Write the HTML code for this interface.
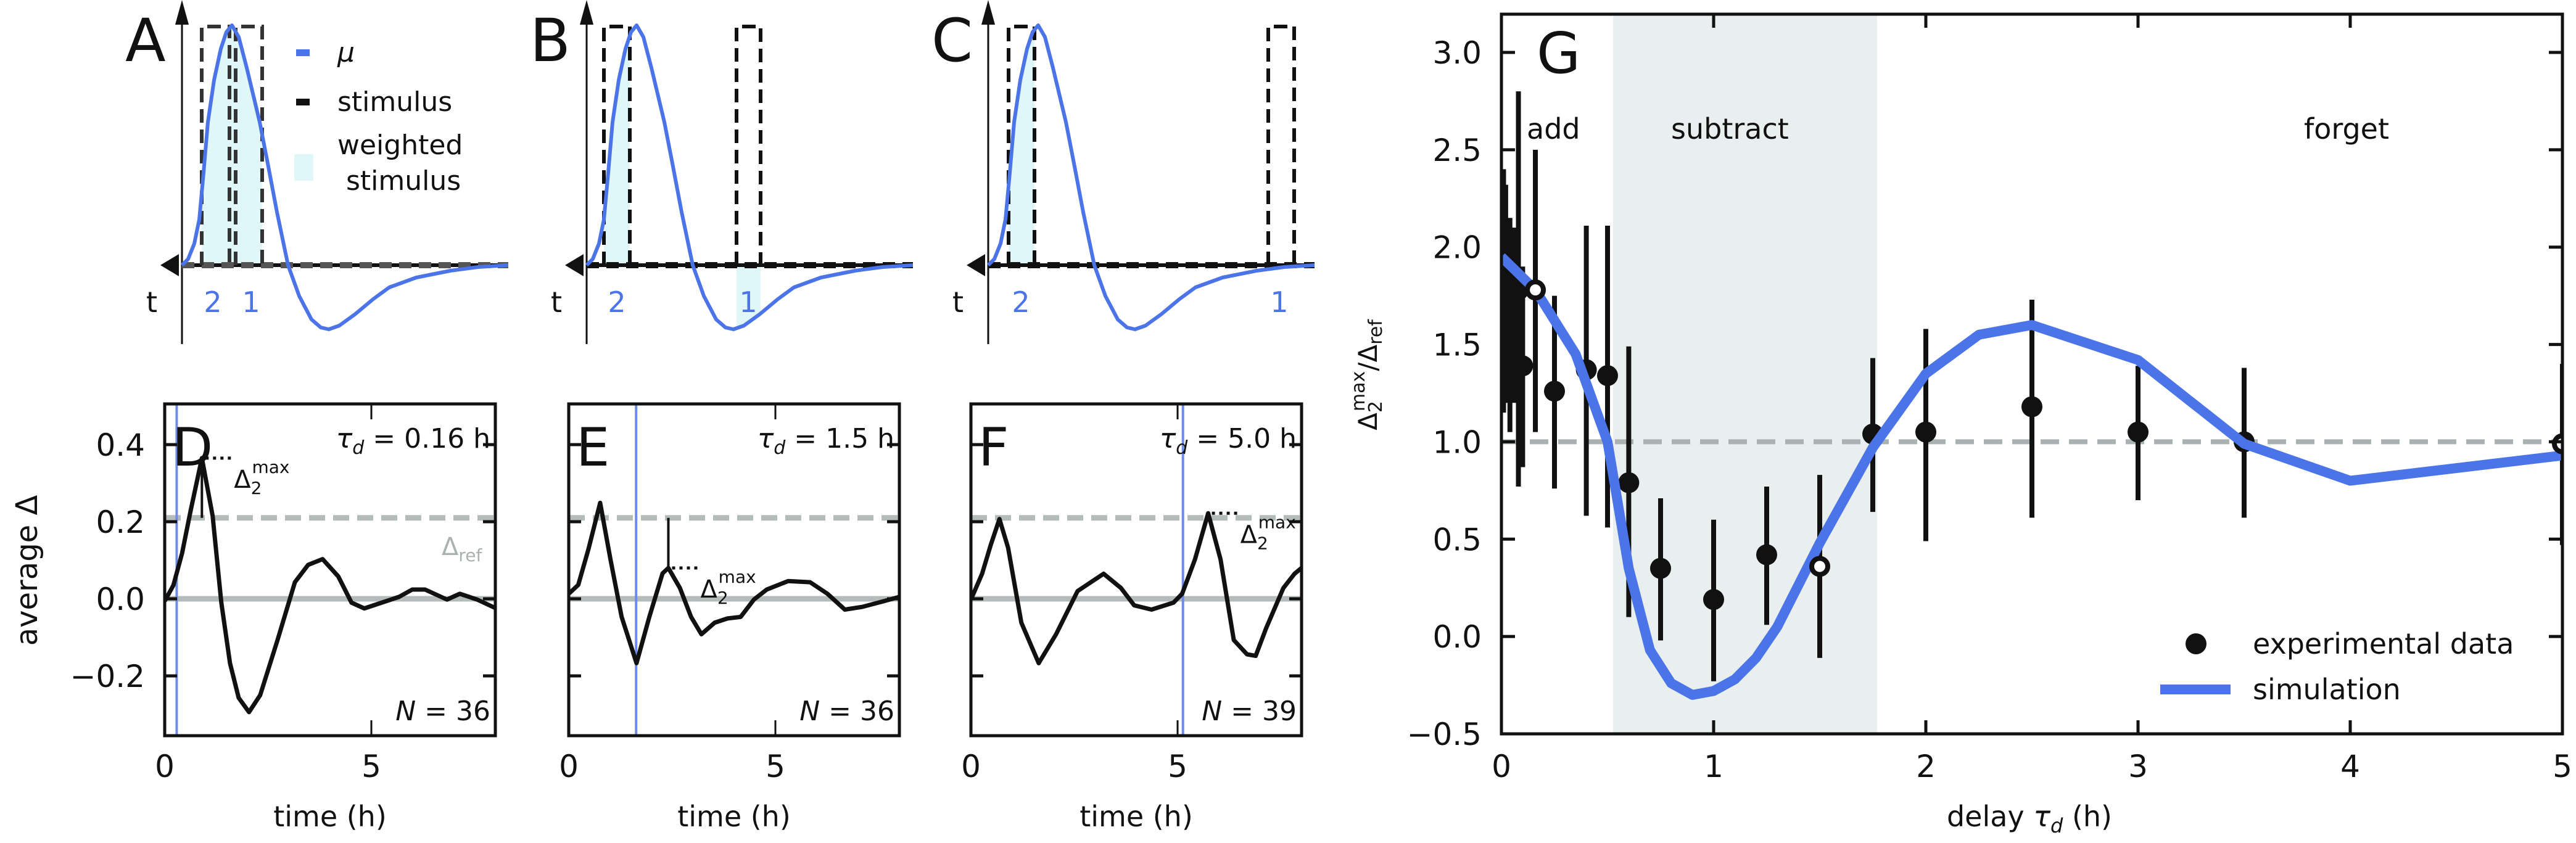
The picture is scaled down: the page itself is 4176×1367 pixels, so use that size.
<!DOCTYPE html>
<html><head><meta charset="utf-8">
<style>
html,body{margin:0;padding:0;background:#fff;}
svg{display:block;font-family:"DejaVu Sans","Liberation Sans",sans-serif;}
</style></head>
<body>
<svg id="fig" width="4176" height="1367" viewBox="0 0 4176 1367" xmlns="http://www.w3.org/2000/svg">
<defs>
<clipPath id="clipA"><rect x="327" y="0" width="98" height="600"/></clipPath>
<clipPath id="clipB"><rect x="979" y="0" width="42" height="600"/><rect x="1194" y="0" width="39" height="600"/></clipPath>
<clipPath id="clipC"><rect x="1635" y="0" width="42" height="600"/></clipPath>
<clipPath id="clipD"><rect x="267" y="655" width="536" height="538"/></clipPath>
<clipPath id="clipE"><rect x="922" y="655" width="536" height="538"/></clipPath>
<clipPath id="clipF"><rect x="1574" y="655" width="536" height="538"/></clipPath>
<clipPath id="clipG"><rect x="2434" y="23" width="1720" height="1167"/></clipPath>
</defs>
<g id="top"></g>
<g id="mid"></g>
<g id="gpanel"></g>
</svg>
<script>
// ---------- Panel G data ----------
const gTau   = [0.01,0.02,0.04,0.06,0.08,0.1,0.16,0.25,0.4,0.5,0.6,0.75,1.0,1.25,1.5,1.75,2.0,2.5,3.0,3.5,5.0];
const gVal   = [1.75,1.6,1.65,1.7,1.78,1.39,1.78,1.26,1.37,1.34,0.79,0.35,0.19,0.42,0.36,1.04,1.05,1.18,1.05,1.0,0.99];
const gLo    = [1.15,1.2,1.05,1.2,0.77,0.87,1.05,0.76,0.62,0.56,0.1,-0.02,-0.23,0.06,-0.11,0.64,0.49,0.61,0.7,0.61,0.47];
const gHi    = [2.4,2.32,2.15,2.1,2.8,1.9,2.5,1.75,2.11,2.11,1.49,0.71,0.6,0.77,0.83,1.43,1.58,1.73,1.39,1.38,1.4];
const gOpen  = [0,0,0,0,0,0,1,0,0,0,0,0,0,0,1,0,0,0,0,0,1];
const simTau = [0,0.16,0.35,0.5,0.6,0.7,0.8,0.9,1.0,1.1,1.2,1.3,1.5,1.75,2.0,2.25,2.5,3.0,3.5,4.0,5.0];
const simVal = [1.95,1.78,1.45,1.0,0.35,-0.07,-0.24,-0.3,-0.28,-0.22,-0.11,0.05,0.48,0.97,1.35,1.55,1.6,1.42,0.99,0.8,0.93];
const gYTicks = [-0.5,0.0,0.5,1.0,1.5,2.0,2.5,3.0];
const gYLabels = ["−0.5","0.0","0.5","1.0","1.5","2.0","2.5","3.0"];
const gXTicks = [0,1,2,3,4,5];
// ---------- Panels D-F data ----------
const dT = [0,0.21,0.42,0.63,0.9,1.16,1.37,1.58,1.79,2.04,2.31,2.73,3.15,3.47,3.82,4.2,4.52,4.83,5.25,5.67,5.99,6.3,6.83,7.14,7.56,8.02];
const dV = [-0.006,0.035,0.118,0.23,0.365,0.215,-0.01,-0.167,-0.257,-0.294,-0.25,-0.107,0.043,0.088,0.103,0.058,-0.01,-0.025,-0.01,0.005,0.024,0.024,-0.002,0.013,-0.002,-0.025];
const eT = [0,0.23,0.48,0.76,1.01,1.28,1.64,1.95,2.27,2.41,2.69,2.96,3.21,3.53,3.84,4.16,4.48,4.79,5.31,5.84,6.26,6.68,7.1,7.63,8.0];
const eV = [0.013,0.036,0.13,0.249,0.102,-0.047,-0.167,-0.047,0.066,0.08,0.028,-0.047,-0.092,-0.062,-0.051,-0.047,-0.002,0.024,0.046,0.043,0.013,-0.028,-0.021,-0.006,0.005];
const fT = [0,0.27,0.48,0.69,0.9,1.22,1.64,2.06,2.58,3.21,3.63,3.95,4.37,4.9,5.11,5.42,5.74,6.04,6.36,6.68,6.89,7.14,7.56,7.83,8.0];
const fV = [-0.002,0.065,0.14,0.207,0.132,-0.062,-0.167,-0.092,0.02,0.065,0.028,-0.017,-0.028,-0.01,0.013,0.102,0.222,0.102,-0.107,-0.144,-0.148,-0.077,0.028,0.065,0.08];
const tauD = [0.16,1.5,5.0];
const tauLabels = ["0.16","1.5","5.0"];
const nLabels = ["36","36","39"];
const peakT = [0.9,2.41,5.74];
const peakV = [0.365,0.08,0.222];
const deltaRef = 0.21;
const dfYTicks = [-0.2,0.0,0.2,0.4];
const dfYLabels = ["−0.2","0.0","0.2","0.4"];
const dfXTicks = [0,5];

const NS="http://www.w3.org/2000/svg";
function mk(tag, parent, attrs, text){
  const e=document.createElementNS(NS,tag);
  for(const k in attrs) e.setAttribute(k,attrs[k]);
  if(text!==undefined) e.textContent=text;
  parent.appendChild(e); return e;
}
const BLUE="#4b74e8";
const TF=50;

// ===== Panel G =====
const G=document.getElementById('gpanel');


const gx0=2434,gx1=4154,gy0=23,gy1=1190;
const gX=t=>gx0+t*(gx1-gx0)/5;
const gY=v=>1190-(v+0.5)*(1190-85)/3.5;
let el;
el=mk('rect',G,{x:gX(0.526),y:gy0,width:gX(1.77)-gX(0.526),height:gy1-gy0,fill:'#e9eeee'});


el=mk('line',G,{x1:gx0,x2:gx1,y1:gY(1),y2:gY(1),stroke:'#a9b2b0','stroke-width':8,'stroke-dasharray':'30,16'});


const gp=mk('g',G,{'clip-path':'url(#clipG)'});
for(let i=0;i<gTau.length;i++){
  el=mk('line',gp,{x1:gX(gTau[i]),x2:gX(gTau[i]),y1:gY(gLo[i]),y2:gY(gHi[i]),stroke:'#111','stroke-width':8});
  
  
}
for(let i=0;i<gTau.length;i++){
  if(gOpen[i]) continue;
  el=mk('circle',gp,{cx:gX(gTau[i]),cy:gY(gVal[i]),r:17,fill:'#111'});
  
  
}
el=mk('polyline',gp,{points:simTau.map((t,i)=>gX(t)+','+gY(simVal[i])).join(' '),fill:'none',stroke:BLUE,'stroke-width':16,'stroke-linejoin':'round'});


for(let i=0;i<gTau.length;i++){
  if(!gOpen[i]) continue;
  el=mk('circle',gp,{cx:gX(gTau[i]),cy:gY(gVal[i]),r:13,fill:'#fff',stroke:'#111','stroke-width':8});
  
  
}
el=mk('rect',G,{x:gx0,y:gy0,width:gx1-gx0,height:gy1-gy0,fill:'none',stroke:'#111','stroke-width':5});


gYTicks.forEach((v,i)=>{
  mk('line',G,{x1:gx0,x2:gx0+22,y1:gY(v),y2:gY(v),stroke:'#111','stroke-width':5});
  mk('line',G,{x1:gx1-22,x2:gx1,y1:gY(v),y2:gY(v),stroke:'#111','stroke-width':5});
  el=mk('text',G,{x:gx0-32,y:gY(v)+18,'text-anchor':'end','font-size':TF,fill:'#111'},gYLabels[i]);
  
  
});
gXTicks.forEach(t=>{
  mk('line',G,{x1:gX(t),x2:gX(t),y1:gy1,y2:gy1-22,stroke:'#111','stroke-width':5});
  mk('line',G,{x1:gX(t),x2:gX(t),y1:gy0,y2:gy0+22,stroke:'#111','stroke-width':5});
  el=mk('text',G,{x:gX(t),y:1260,'text-anchor':'middle','font-size':TF,fill:'#111'},String(t));
  
  
});
el=mk('text',G,{x:2491,y:118,'font-size':92,fill:'#111'},'G');


[['add',2475],['subtract',2709],['forget',3735]].forEach(a=>{
  el=mk('text',G,{x:a[1],y:225,'font-size':46,fill:'#111'},a[0]);
  
  
});
el=mk('text',G,{x:3290,y:1340,'text-anchor':'middle','font-size':46,fill:'#111'});
el.innerHTML='delay <tspan font-style="italic">τ</tspan><tspan font-style="italic" font-size="32" dy="10">d</tspan><tspan dy="-10"> (h)</tspan>';


el=mk('text',G,{x:0,y:0,'text-anchor':'middle','font-size':42,fill:'#111',transform:'translate(2232,608) rotate(-90)'});
el.innerHTML='Δ<tspan font-size="30" dy="8">2</tspan><tspan font-size="30" dx="-17" dy="-28">max</tspan><tspan dy="20">/Δ</tspan><tspan font-size="30" dy="8">ref</tspan>';


// legend
const lg=mk('g',G,{});


mk('circle',lg,{cx:3560,cy:1044,r:17,fill:'#111'});
el=mk('text',lg,{x:3652,y:1060,'font-size':46,fill:'#111'},'experimental data');


mk('line',lg,{x1:3502,x2:3616,y1:1118,y2:1118,stroke:BLUE,'stroke-width':16});
el=mk('text',lg,{x:3652,y:1134,'font-size':46,fill:'#111'},'simulation');



// ===== Panels A-C =====
const T=document.getElementById('top');
const muPts=[[0,0],[10,10],[20,35],[28,74],[35,150],[42,232],[52,300],[63,351],[72,378],[81,389],[92,370],[105,320],[126,232],[140,160],[154,86],[172,0],[190,-50],[210,-88],[225,-101],[238,-104],[255,-98],[280,-80],[310,-55],[336,-36],[380,-20],[435,-9],[480,-3],[529,0]];
const axesABC=[295,951,1602];
const letters=['A','B','C'];
const rects=[[[327,372],[382,425]],[[979,1021],[1194,1233]],[[1635,1677],[2056,2098]]];
const numPos=[[[345,'2'],[407,'1']],[[1000,'2'],[1213,'1']],[[1655,'2'],[2074,'1']]];
const clips=['clipA','clipB','clipC'];
const ay=430;
axesABC.forEach((ax,p)=>{
  const g=mk('g',T,{});
  
  
  const d='M'+muPts.map(q=>(ax+q[0])+','+(ay-q[1])).join(' L');
  el=mk('path',g,{d:d+' Z',fill:'#e0f7f9',stroke:'none','clip-path':'url(#'+clips[p]+')'});
  
  
  mk('line',g,{x1:ax,x2:ax,y1:40,y2:558,stroke:'#111','stroke-width':3});
  mk('polygon',g,{points:(ax-11)+',40 '+(ax+11)+',40 '+ax+',0',fill:'#111'});
  mk('line',g,{x1:ax,x2:ax+529,y1:ay,y2:ay,stroke:'#111','stroke-width':6});
  mk('polygon',g,{points:(ax-35)+','+ay+' '+(ax-5)+','+(ay-18)+' '+(ax-5)+','+(ay+18),fill:'#111'});
  mk('line',g,{x1:ax,x2:ax+529,y1:ay,y2:ay,stroke:p==0?'#555':'#111','stroke-width':10,'stroke-dasharray':'20,12'});
  rects[p].forEach(r=>{
    el=mk('path',g,{d:'M'+r[0]+','+ay+' L'+r[0]+',43 L'+r[1]+',43 L'+r[1]+','+ay,fill:'none',stroke:p==0?'#333':'#111','stroke-width':6,'stroke-dasharray':'22,11'});
    
    
  });
  el=mk('path',g,{d:d,fill:'none',stroke:BLUE,'stroke-width':6,'stroke-linejoin':'round'});
  
  
  el=mk('text',g,{x:ax-92,y:99,'font-size':96,fill:'#111'},letters[p]);
  
  
  mk('text',g,{x:ax-49,y:506,'font-size':46,fill:'#111','text-anchor':'middle'},'t');
  numPos[p].forEach(n=>{
    el=mk('text',g,{x:n[0],y:506,'font-size':46,fill:BLUE,'text-anchor':'middle'},n[1]);
    
    
  });
});
const la=mk('g',T,{});


mk('rect',la,{x:480,y:80,width:22,height:11,fill:BLUE});
mk('text',la,{x:547,y:100,'font-size':44,'font-style':'italic',fill:'#111'},'μ');
mk('rect',la,{x:480,y:160,width:22,height:11,fill:'#111'});
mk('text',la,{x:547,y:180,'font-size':44,fill:'#111'},'stimulus');
mk('rect',la,{x:477,y:250,width:31,height:43,fill:'#e0f7f9'});
mk('text',la,{x:547,y:250,'font-size':44,fill:'#111'},'weighted');
mk('text',la,{x:561,y:308,'font-size':44,fill:'#111'},'stimulus');

// ===== Panels D-F =====
const M=document.getElementById('mid');
const px0=[267,922,1574];
const pw=536, py0=655, py1=1193;
const series=[[dT,dV],[eT,eV],[fT,fV]];
const lettersDF=['D','E','F'];
const dY=v=>971-v*625;
px0.forEach((x0,p)=>{
  const X=t=>x0+t*pw/8;
  const g=mk('g',M,{});
  
  
  const c=mk('g',g,{'clip-path':'url(#clip'+lettersDF[p]+')'});
  mk('line',c,{x1:x0,x2:x0+pw,y1:dY(0),y2:dY(0),stroke:'#b4bcbb','stroke-width':9});
  el=mk('line',c,{x1:x0,x2:x0+pw,y1:dY(deltaRef),y2:dY(deltaRef),stroke:'#b4bcbb','stroke-width':9,'stroke-dasharray':'26,13'});
  
  
  [0,tauD[p]+0.13].forEach(t=>mk('line',c,{x1:X(t),x2:X(t),y1:py0,y2:py1,stroke:'#6f8be8','stroke-width':4}));
  el=mk('polyline',c,{points:series[p][0].map((t,i)=>X(t)+','+dY(series[p][1][i])).join(' '),fill:'none',stroke:'#111','stroke-width':7,'stroke-linejoin':'round'});
  
  
  mk('line',g,{x1:X(peakT[p]),x2:X(peakT[p]),y1:dY(deltaRef),y2:dY(peakV[p]),stroke:'#111','stroke-width':4});
  mk('line',g,{x1:X(peakT[p])+6,x2:X(peakT[p])+48,y1:dY(peakV[p]),y2:dY(peakV[p]),stroke:'#111','stroke-width':5,'stroke-dasharray':'5,7'});
  el=mk('text',g,{x:X(peakT[p])+52,y:dY(peakV[p])+48,'font-size':40,fill:'#111'});
  el.innerHTML='Δ<tspan font-size="28" dy="10">2</tspan><tspan font-size="28" dx="-16" dy="-34">max</tspan>';
  
  
  mk('rect',g,{x:x0,y:py0,width:pw,height:py1-py0,fill:'none',stroke:'#111','stroke-width':5});
  dfYTicks.forEach((v,i)=>{
    mk('line',g,{x1:x0,x2:x0+20,y1:dY(v),y2:dY(v),stroke:'#111','stroke-width':5});
    mk('line',g,{x1:x0+pw-20,x2:x0+pw,y1:dY(v),y2:dY(v),stroke:'#111','stroke-width':5});
    if(p==0){
      el=mk('text',g,{x:x0-32,y:dY(v)+18,'text-anchor':'end','font-size':TF,fill:'#111'},dfYLabels[i]);
      
      
    }
  });
  dfXTicks.forEach(t=>{
    mk('line',g,{x1:X(t),x2:X(t),y1:py0,y2:py0+25,stroke:'#111','stroke-width':3});
    mk('line',g,{x1:X(t),x2:X(t),y1:py1,y2:py1-25,stroke:'#111','stroke-width':3});
    el=mk('text',g,{x:X(t),y:1260,'text-anchor':'middle','font-size':TF,fill:'#111'},String(t));
    
    
  });
  el=mk('text',g,{x:x0+pw/2,y:1340,'text-anchor':'middle','font-size':46,fill:'#111'},'time (h)');
  
  
  el=mk('text',g,{x:x0+12,y:755,'font-size':86,fill:'#111'},lettersDF[p]);
  
  
  el=mk('text',g,{x:x0+pw-8,y:726,'text-anchor':'end','font-size':44,fill:'#111'});
  el.innerHTML='<tspan font-style="italic">τ</tspan><tspan font-style="italic" font-size="30" dy="10">d</tspan><tspan dy="-10"> = '+tauLabels[p]+' h</tspan>';
  
  
  el=mk('text',g,{x:x0+pw-8,y:1168,'text-anchor':'end','font-size':44,fill:'#111'});
  el.innerHTML='<tspan font-style="italic">N</tspan> = '+nLabels[p];
  
  
});
el=mk('text',M,{x:716,y:900,'font-size':40,fill:'#a9b2b0'});
el.innerHTML='Δ<tspan font-size="28" dy="10">ref</tspan>';


el=mk('text',M,{x:0,y:0,'text-anchor':'middle','font-size':48,fill:'#111',transform:'translate(60,925) rotate(-90)'},'average Δ');


</script>
</body></html>
